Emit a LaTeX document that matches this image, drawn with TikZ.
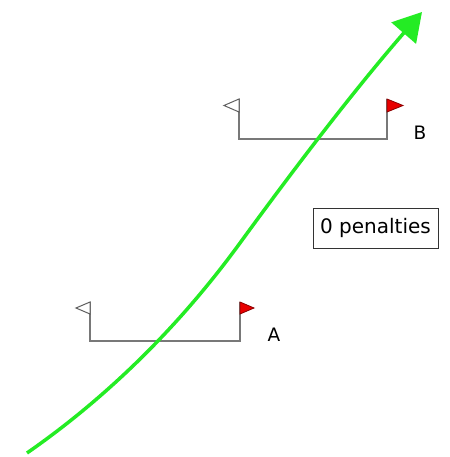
\documentclass[tikz,border=0pt]{standalone}
\usepackage{fontspec}
\setmainfont{DejaVu Sans}
\usepackage{tikz}
\usetikzlibrary{arrows.meta,positioning}
\definecolor{trackgreen}{RGB}{36,236,36}
\definecolor{polegrey}{RGB}{120,120,120}
\definecolor{flagred}{RGB}{232,0,0}

\begin{document}
\begin{tikzpicture}[x=1pt, y=-1pt,
  pole/.style={draw=polegrey, line width=1.3pt},
  flagleft/.style={draw=polegrey!80!black, fill=white, line width=1pt},
  flagright/.style={draw=red!55!black, fill=flagred, line width=0.8pt},
  gatelab/.style={font=\fontsize{18.5}{18.5}\selectfont, inner sep=0pt},
  tally/.style={draw=black!80, line width=1pt, minimum width=125pt,
                minimum height=40pt, font=\fontsize{20}{20}\selectfont},
  track/.style={draw=trackgreen, line width=3.5pt,
                -{Triangle[length=28pt, width=32pt]}}]
\useasboundingbox (0,0) rectangle (449,457);
% gate A
\draw[pole] (90,302) -- (90,341) -- (240,341) -- (240,302);
\draw[flagleft] (90,302) -- (76,308) -- (90,314) -- cycle;
\draw[flagright] (240,302) -- (254,308) -- (240,314) -- cycle;
\node[gatelab] (labA) at (274,335) {A};
% gate B
\draw[pole] (239,99) -- (239,139) -- (387,139) -- (387,99);
\draw[flagleft] (239,99) -- (224,105.5) -- (239,112) -- cycle;
\draw[flagright] (387,99) -- (403,105.5) -- (387,112) -- cycle;
\node[gatelab] (labB) at (420,133) {B};
\node[tally] (score) at (375.5,228) {0 penalties};
% the run
\coordinate (start) at (27,453);
\coordinate (bend) at (240,243);
\coordinate (tip) at (422,12);
\draw[track] (start) .. controls (109,396) and (181,324) .. (bend)
  .. controls (299,162) and (356,88) .. (tip);
\end{tikzpicture}
\end{document}
